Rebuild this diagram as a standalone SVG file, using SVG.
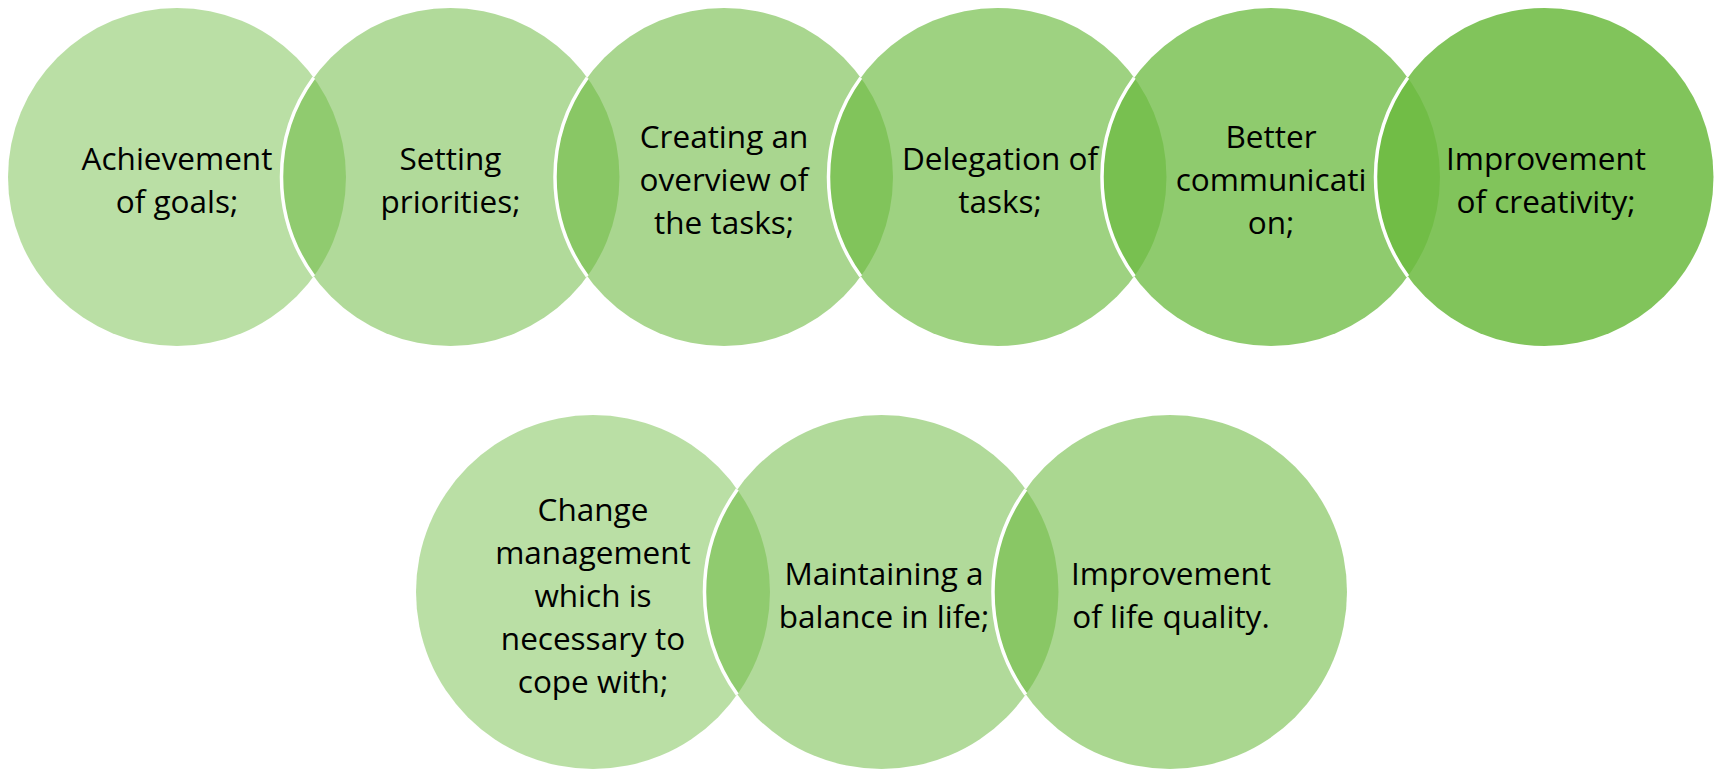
<svg xmlns="http://www.w3.org/2000/svg" width="1715" height="769" viewBox="0 0 1715 769">
  <style>
    .c { fill: #6cba40; }
    .sep { fill: none; stroke: #ffffff; stroke-width: 3.5; }
    .t { font-family: "Open Sans", "Noto Sans", "DejaVu Sans", sans-serif; font-size: 31.5px; fill: #000000; text-anchor: middle; }
  </style>
  <rect width="1715" height="769" fill="#ffffff"/>

  <!-- top row: r=169, cy=177, step 273.5 -->
  <g id="n1">
    <circle class="c" cx="177" cy="177" r="169" fill-opacity="0.47"/>
    <text class="t" x="177"><tspan x="177" y="170">Achievement</tspan><tspan x="177" y="213">of goals;</tspan></text>
  </g>
  <g id="n2">
    <circle class="c" cx="450.5" cy="177" r="169" fill-opacity="0.53"/>
    <path class="sep" d="M313.75,77.7 A169,169 0 0 0 313.75,276.3"/>
    <text class="t" x="450.5"><tspan x="450.5" y="170">Setting</tspan><tspan x="450.5" y="213">priorities;</tspan></text>
  </g>
  <g id="n3">
    <circle class="c" cx="724" cy="177" r="169" fill-opacity="0.59"/>
    <path class="sep" d="M587.25,77.7 A169,169 0 0 0 587.25,276.3"/>
    <text class="t" x="724"><tspan x="724" y="148">Creating an</tspan><tspan x="724" y="191">overview of</tspan><tspan x="724" y="234">the tasks;</tspan></text>
  </g>
  <g id="n4">
    <circle class="c" cx="997.5" cy="177" r="169" fill-opacity="0.66"/>
    <path class="sep" d="M860.75,77.7 A169,169 0 0 0 860.75,276.3"/>
    <text class="t" x="1000"><tspan x="1000" y="170">Delegation of</tspan><tspan x="1000" y="213">tasks;</tspan></text>
  </g>
  <g id="n5">
    <circle class="c" cx="1271" cy="177" r="169" fill-opacity="0.76"/>
    <path class="sep" d="M1134.25,77.7 A169,169 0 0 0 1134.25,276.3"/>
    <text class="t" x="1271"><tspan x="1271" y="148">Better</tspan><tspan x="1271" y="191">communicati</tspan><tspan x="1271" y="234">on;</tspan></text>
  </g>
  <g id="n6">
    <circle class="c" cx="1544.5" cy="177" r="169" fill-opacity="0.86"/>
    <path class="sep" d="M1407.75,77.7 A169,169 0 0 0 1407.75,276.3"/>
    <text class="t" x="1546"><tspan x="1546" y="170">Improvement</tspan><tspan x="1546" y="213">of creativity;</tspan></text>
  </g>

  <!-- bottom row: r=177, cy=592, step 288.5 -->
  <g id="n7">
    <circle class="c" cx="593" cy="592" r="177" fill-opacity="0.47"/>
    <text class="t" x="593"><tspan x="593" y="521">Change</tspan><tspan x="593" y="564">management</tspan><tspan x="593" y="607">which is</tspan><tspan x="593" y="650">necessary to</tspan><tspan x="593" y="693">cope with;</tspan></text>
  </g>
  <g id="n8">
    <circle class="c" cx="881.5" cy="592" r="177" fill-opacity="0.53"/>
    <path class="sep" d="M737.25,489.4 A177,177 0 0 0 737.25,694.6"/>
    <text class="t" x="884"><tspan x="884" y="585">Maintaining a</tspan><tspan x="884" y="628">balance in life;</tspan></text>
  </g>
  <g id="n9">
    <circle class="c" cx="1170" cy="592" r="177" fill-opacity="0.58"/>
    <path class="sep" d="M1025.75,489.4 A177,177 0 0 0 1025.75,694.6"/>
    <text class="t" x="1171"><tspan x="1171" y="585">Improvement</tspan><tspan x="1171" y="628">of life quality.</tspan></text>
  </g>

  <g id="connectors"/>
</svg>
